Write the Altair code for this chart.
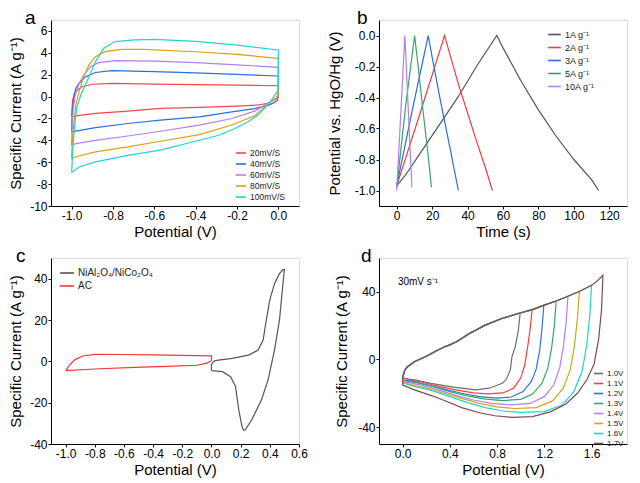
import altair as alt
import pandas as pd

FONT = "Liberation Sans"
MINUS = "\u2212"

# ---------------- panel a : CV of electrode at scan rates ----------------
A_LABELS = ["20mV/S", "40mV/S", "60mV/S", "80mV/S", "100mV/S"]
A_COLORS = ["#f5484c", "#2a6fe0", "#b47ff0", "#d9a210", "#22d2d4"]
A20_X = [-1.0, -0.999, -0.995, -0.987, -0.972, -0.948, -0.9, -0.8, -0.6, -0.4, -0.2, 0.0, 0.0, -0.005, -0.02, -0.052, -0.1, -0.2, -0.382, -0.571, -0.728, -0.885, -0.98, -1.0]
A20_Y = [-1.85, -1.2, -0.3, 0.3, 0.6, 0.92, 1.13, 1.2, 1.14, 1.1, 1.05, 0.99, 0.1, -0.15, -0.32, -0.62, -0.77, -0.87, -0.99, -1.08, -1.33, -1.54, -1.77, -1.85]
A40_X = [-1.0, -0.999, -0.995, -0.988, -0.98, -0.964, -0.932, -0.885, -0.807, -0.6, -0.4, -0.2, 0.0, 0.0, -0.005, -0.02, -0.05, -0.115, -0.225, -0.382, -0.571, -0.728, -0.885, -0.98, -1.0]
A40_Y = [-3.28, -2.2, -1.0, 0.0, 0.76, 1.22, 1.82, 2.2, 2.37, 2.28, 2.17, 2.03, 1.88, 0.0, -0.35, -0.55, -0.8, -1.1, -1.4, -1.85, -2.16, -2.46, -2.83, -3.15, -3.28]
A60_X = [-1.0, -0.998, -0.993, -0.983, -0.964, -0.94, -0.909, -0.87, -0.79, -0.6, -0.4, -0.2, 0.0, 0.0, -0.01, -0.05, -0.115, -0.225, -0.382, -0.571, -0.728, -0.885, -0.98, -1.0]
A60_Y = [-4.45, -3.0, -1.2, 0.14, 1.22, 1.98, 2.74, 3.1, 3.29, 3.25, 3.1, 2.9, 2.67, 0.2, -0.1, -0.6, -1.33, -2.0, -2.61, -3.17, -3.6, -4.0, -4.3, -4.45]
A80_X = [-1.0, -0.998, -0.992, -0.98, -0.964, -0.945, -0.917, -0.885, -0.838, -0.76, -0.65, -0.4, -0.2, 0.0, 0.0, -0.01, -0.03, -0.06, -0.115, -0.225, -0.382, -0.571, -0.728, -0.885, -0.98, -1.0]
A80_Y = [-5.67, -4.5, -2.9, -0.78, 0.45, 1.66, 2.88, 3.65, 4.11, 4.32, 4.32, 4.1, 3.85, 3.5, 0.0, -0.2, -0.4, -0.85, -1.75, -2.6, -3.47, -4.08, -4.6, -5.05, -5.5, -5.67]
A100_X = [-1.0, -0.995, -0.987, -0.975, -0.956, -0.92, -0.885, -0.846, -0.79, -0.697, -0.6, -0.4, -0.2, 0.0, 0.0, -0.017, -0.039, -0.067, -0.1, -0.146, -0.21, -0.288, -0.382, -0.571, -0.728, -0.885, -0.964, -1.0]
A100_Y = [-6.95, -5.0, -2.9, -1.0, 0.14, 1.66, 3.2, 4.4, 5.03, 5.18, 5.22, 5.05, 4.7, 4.26, 0.6, 0.14, -0.47, -1.08, -1.7, -2.3, -2.92, -3.53, -3.99, -4.9, -5.37, -5.97, -6.43, -6.95]

# ---------------- panel b : GCD curves ----------------
B_LABELS = ["1A g\u207b\u00b9", "2A g\u207b\u00b9", "3A g\u207b\u00b9", "5A g\u207b\u00b9", "10A g\u207b\u00b9"]
B_COLORS = ["#555555", "#f03c3c", "#2a6fe0", "#35a46a", "#b47ff0"]
B1_X = [0, 5, 15, 25, 35, 45, 56.5, 60, 70, 80, 90, 100, 110, 114]
B1_Y = [-0.97, -0.9, -0.73, -0.56, -0.39, -0.2, 0.0, -0.08, -0.29, -0.48, -0.65, -0.8, -0.93, -1.0]
B2_X = [0, 13.5, 27, 30, 35, 40, 45, 50, 54]
B2_Y = [-0.97, -0.49, 0.0, -0.12, -0.32, -0.5, -0.68, -0.85, -1.0]
B3_X = [0, 9, 17.8, 20, 25, 30, 34.8]
B3_Y = [-0.97, -0.47, 0.0, -0.14, -0.44, -0.72, -1.0]
B5_X = [0, 5, 10.1, 12, 15, 18, 19.6]
B5_Y = [-0.98, -0.46, 0.0, -0.19, -0.5, -0.8, -0.98]
B10_X = [0, 2.3, 4.6, 5.5, 7, 8.6]
B10_Y = [-1.0, -0.5, 0.0, -0.22, -0.6, -0.98]

# ---------------- panel c : CV of both electrodes ----------------
C_LABELS = ["NiAl\u2082O\u2084/NiCo\u2082O\u2084", "AC"]
C_COLORS = ["#555555", "#f03a3a"]
CN_X = [0.0, 0.0, 0.02, 0.048, 0.142, 0.254, 0.32, 0.354, 0.376, 0.399, 0.432, 0.466, 0.49, 0.5, 0.488, 0.466, 0.432, 0.388, 0.343, 0.276, 0.232, 0.22, 0.209, 0.187, 0.165, 0.131, 0.075, 0.02, 0.0]
CN_Y = [-4.5, -1.5, 0.2, 0.6, 1.45, 3.0, 5.45, 10.3, 19.9, 29.5, 37.6, 42.4, 44.3, 44.5, 36.0, 19.9, 5.45, -9.0, -18.6, -28.3, -33.1, -33.4, -31.5, -23.5, -12.2, -7.4, -5.0, -4.6, -4.5]
CA_X = [-1.0, -0.973, -0.94, -0.884, -0.795, -0.6, -0.4, -0.2, 0.0, 0.0, -0.036, -0.1, -0.3, -0.527, -0.8, -1.0]
CA_Y = [-4.5, -1.8, 0.6, 2.6, 3.4, 3.3, 3.1, 2.9, 2.6, 0.3, -1.0, -1.9, -2.4, -2.9, -3.7, -4.5]

# ---------------- panel d : device CV at voltage windows ----------------
D_LABELS = ["1.0V", "1.1V", "1.2V", "1.3V", "1.4V", "1.5V", "1.6V", "1.7V"]
D_COLORS = ["#6e6e6e", "#f34141", "#2b74e0", "#3ba46c", "#b37ff0", "#d4a418", "#1fd3d3", "#7d4b4b"]
D_UP_X = [0.0, 0.02, 0.044, 0.1, 0.16, 0.21, 0.28, 0.35, 0.4, 0.456, 0.566, 0.7, 0.84, 0.98, 1.1, 1.2, 1.3, 1.4, 1.5, 1.6, 1.65]
D_UP_Y = [-10.5, -6.0, -4.2, -1.3, 0.6, 2.2, 4.8, 7.4, 8.6, 10.5, 15.4, 20.3, 24.2, 27.2, 29.5, 32.1, 34.6, 37.4, 40.3, 43.9, 46.5]
D10_X = [0.995, 0.98, 0.954, 0.926, 0.912, 0.88, 0.844, 0.734, 0.62, 0.43, 0.24, 0.1, 0.005, 0.0]
D10_Y = [27.2, 17.3, 7.6, 1.7, -6.2, -11.5, -14.1, -17.0, -18.0, -16.4, -14.1, -12.1, -11.1, -10.5]
D11_X = [1.097, 1.08, 1.06, 1.035, 1.0, 0.94, 0.85, 0.72, 0.6, 0.45, 0.3, 0.15, 0.05, 0.0]
D11_Y = [29.5, 18.0, 8.0, -3.0, -11.0, -17.0, -19.8, -20.4, -19.8, -18.0, -15.8, -13.2, -12.0, -10.5]
D12_X = [1.196, 1.18, 1.16, 1.13, 1.09, 1.02, 0.92, 0.8, 0.65, 0.5, 0.35, 0.2, 0.08, 0.0, 0.0]
D12_Y = [32.1, 18.0, 5.0, -6.0, -13.0, -19.0, -22.2, -22.9, -22.0, -20.0, -17.5, -14.8, -12.8, -12.0, -10.5]
D13_X = [1.3, 1.285, 1.26, 1.23, 1.18, 1.1, 1.0, 0.85, 0.7, 0.55, 0.4, 0.25, 0.1, 0.0, 0.0]
D13_Y = [34.6, 20.0, 6.0, -5.0, -14.0, -20.5, -23.6, -24.3, -23.5, -21.5, -19.0, -16.0, -13.5, -12.5, -10.5]
D14_X = [1.4, 1.385, 1.36, 1.33, 1.28, 1.2, 1.08, 0.92, 0.75, 0.6, 0.45, 0.3, 0.15, 0.0, 0.0]
D14_Y = [37.4, 22.0, 7.0, -5.0, -15.0, -22.0, -26.0, -26.9, -26.0, -24.0, -21.2, -18.0, -15.0, -13.0, -10.5]
D15_X = [1.497, 1.48, 1.455, 1.42, 1.36, 1.27, 1.13, 0.95, 0.8, 0.65, 0.5, 0.35, 0.2, 0.08, 0.0, 0.0]
D15_Y = [40.3, 24.0, 8.0, -6.0, -17.0, -24.5, -28.5, -29.0, -28.0, -26.0, -23.0, -20.0, -17.0, -15.0, -13.5, -10.5]
D16_X = [1.6, 1.585, 1.56, 1.52, 1.45, 1.35, 1.2, 1.0, 0.85, 0.7, 0.55, 0.4, 0.25, 0.1, 0.0, 0.0]
D16_Y = [43.9, 26.0, 9.0, -7.0, -19.0, -27.0, -30.8, -31.3, -30.5, -28.5, -25.5, -22.0, -18.5, -16.0, -14.0, -10.5]
D17_X = [1.696, 1.685, 1.66, 1.62, 1.56, 1.48, 1.38, 1.25, 1.1, 0.93, 0.78, 0.65, 0.5, 0.38, 0.25, 0.1, 0.0, 0.0]
D17_Y = [49.8, 30.0, 12.0, -3.0, -12.0, -20.0, -26.5, -31.0, -33.8, -34.3, -33.3, -31.5, -28.5, -25.0, -21.5, -18.0, -15.1, -10.5]
D_NOTE = ["30mV s\u207b\u00b9"]
D_NOTE_X = [-0.04]
D_NOTE_Y = [44.0]


def frame(labels, xs, ys):
    rows = []
    for lab, xx, yy in zip(labels, xs, ys):
        for i, (a, b) in enumerate(zip(xx, yy)):
            rows.append({"s": lab, "i": i, "x": a, "y": b})
    return pd.DataFrame(rows)


df_a = frame(A_LABELS, [A20_X, A40_X, A60_X, A80_X, A100_X], [A20_Y, A40_Y, A60_Y, A80_Y, A100_Y])
df_b = frame(B_LABELS, [B1_X, B2_X, B3_X, B5_X, B10_X], [B1_Y, B2_Y, B3_Y, B5_Y, B10_Y])
df_c = frame(C_LABELS, [CN_X, CA_X], [CN_Y, CA_Y])

d_desc_x = [D10_X, D11_X, D12_X, D13_X, D14_X, D15_X, D16_X, D17_X]
d_desc_y = [D10_Y, D11_Y, D12_Y, D13_Y, D14_Y, D15_Y, D16_Y, D17_Y]
d_xs, d_ys = [], []
for dx, dy in zip(d_desc_x, d_desc_y):
    vmax = dx[0]
    ux = [u for u in D_UP_X if u < vmax - 0.01]
    uy = D_UP_Y[:len(ux)]
    d_xs.append(ux + dx)
    d_ys.append(uy + dy)
df_d = frame(D_LABELS, d_xs, d_ys)
df_note = pd.DataFrame({"t": D_NOTE, "x": D_NOTE_X, "y": D_NOTE_Y})

LBL = "replace(format(datum.value, '{f}'), '" + MINUS + "', '-')"

W = 248
H = 186


def axis(title, values, fmt, title_pad):
    return alt.Axis(title=title, values=values, labelExpr=LBL.format(f=fmt), grid=False,
                    tickSize=3, tickColor="black", domainColor="black", labelColor="black",
                    titleColor="black", labelFontSize=12, titleFontSize=15,
                    titleFontWeight="normal", labelFont=FONT, titleFont=FONT,
                    labelPadding=1, titlePadding=title_pad, labelFlush=False)


def letter_title(letter, dx):
    return alt.TitleParams(text=letter, anchor="start", frame="group", dx=dx, fontSize=19,
                           font=FONT, fontWeight="normal", color="black", offset=-8)


def lines_chart(df, xdom, ydom, xvals, yvals, xfmt, yfmt, xtitle, ytitle, labels, colors,
                legend, ypad):
    return alt.Chart(df).mark_line(strokeWidth=1.2, clip=True).encode(
        x=alt.X("x:Q", scale=alt.Scale(domain=xdom, nice=False, zero=False),
                axis=axis(xtitle, xvals, xfmt, 3)),
        y=alt.Y("y:Q", scale=alt.Scale(domain=ydom, nice=False, zero=False),
                axis=axis(ytitle, yvals, yfmt, ypad)),
        color=alt.Color("s:N", scale=alt.Scale(domain=labels, range=colors), legend=legend),
        order="i:Q",
    ).properties(width=W, height=H)


def leg(x, y, size, fs, rowpad):
    return alt.Legend(title=None, orient="none", legendX=x, legendY=y, symbolType="stroke",
                      symbolSize=size, symbolStrokeWidth=1.6, labelFontSize=fs, labelFont=FONT,
                      labelColor="#222222", rowPadding=rowpad, labelOffset=3)


pa = lines_chart(df_a, [-1.1, 0.1], [-10, 7], [-1.0, -0.8, -0.6, -0.4, -0.2, 0.0],
                 list(range(-10, 7, 2)), ".1f", "d", "Potential (V)", "Specific Current (A g\u207b\u00b9)",
                 A_LABELS, A_COLORS, leg(184, 127, 100, 8.5, -1), 6).properties(title=letter_title("a", -26))
pb = lines_chart(df_b, [-10, 130], [-1.1, 0.1], [0, 20, 40, 60, 80, 100, 120],
                 [-1.0, -0.8, -0.6, -0.4, -0.2, 0.0], "d", ".1f", "Time (s)", "Potential vs. HgO/Hg (V)",
                 B_LABELS, B_COLORS, leg(168, 7, 160, 9, -1), 12).properties(title=letter_title("b", -22))
pc = lines_chart(df_c, [-1.1, 0.6], [-40, 50], [-1.0, -0.8, -0.6, -0.4, -0.2, 0.0, 0.2, 0.4, 0.6],
                 [-40, -20, 0, 20, 40], ".1f", "d", "Potential (V)", "Specific Current (A g\u207b\u00b9)",
                 C_LABELS, C_COLORS, leg(8, 7, 196, 10, 0), 6).properties(title=letter_title("c", -35))
pd_lines = lines_chart(df_d, [-0.2, 1.9], [-50, 60], [0.0, 0.4, 0.8, 1.2, 1.6],
                       [-40, -20, 0, 20, 40, 60], ".1f", "d", "Potential (V)", "Specific Current (A g\u207b\u00b9)",
                       D_LABELS, D_COLORS, leg(214, 110, 81, 8, 0), 8)
note = alt.Chart(df_note).mark_text(align="left", baseline="alphabetic", fontSize=10, font=FONT,
                                     color="black").encode(x="x:Q", y="y:Q", text="t:N")
pdd = alt.layer(pd_lines, note).properties(title=letter_title("d", -18))

row1 = alt.hconcat(pa, pb, spacing=26).resolve_scale(color="independent")
row2 = alt.hconcat(pc, pdd, spacing=26).resolve_scale(color="independent")
chart = alt.vconcat(row1, row2, spacing=6).resolve_scale(color="independent").properties(
    padding=0
).configure_view(stroke="black", strokeWidth=1).configure(background="white")

chart.save("out.html", embed_options={"renderer": "svg", "actions": False})
